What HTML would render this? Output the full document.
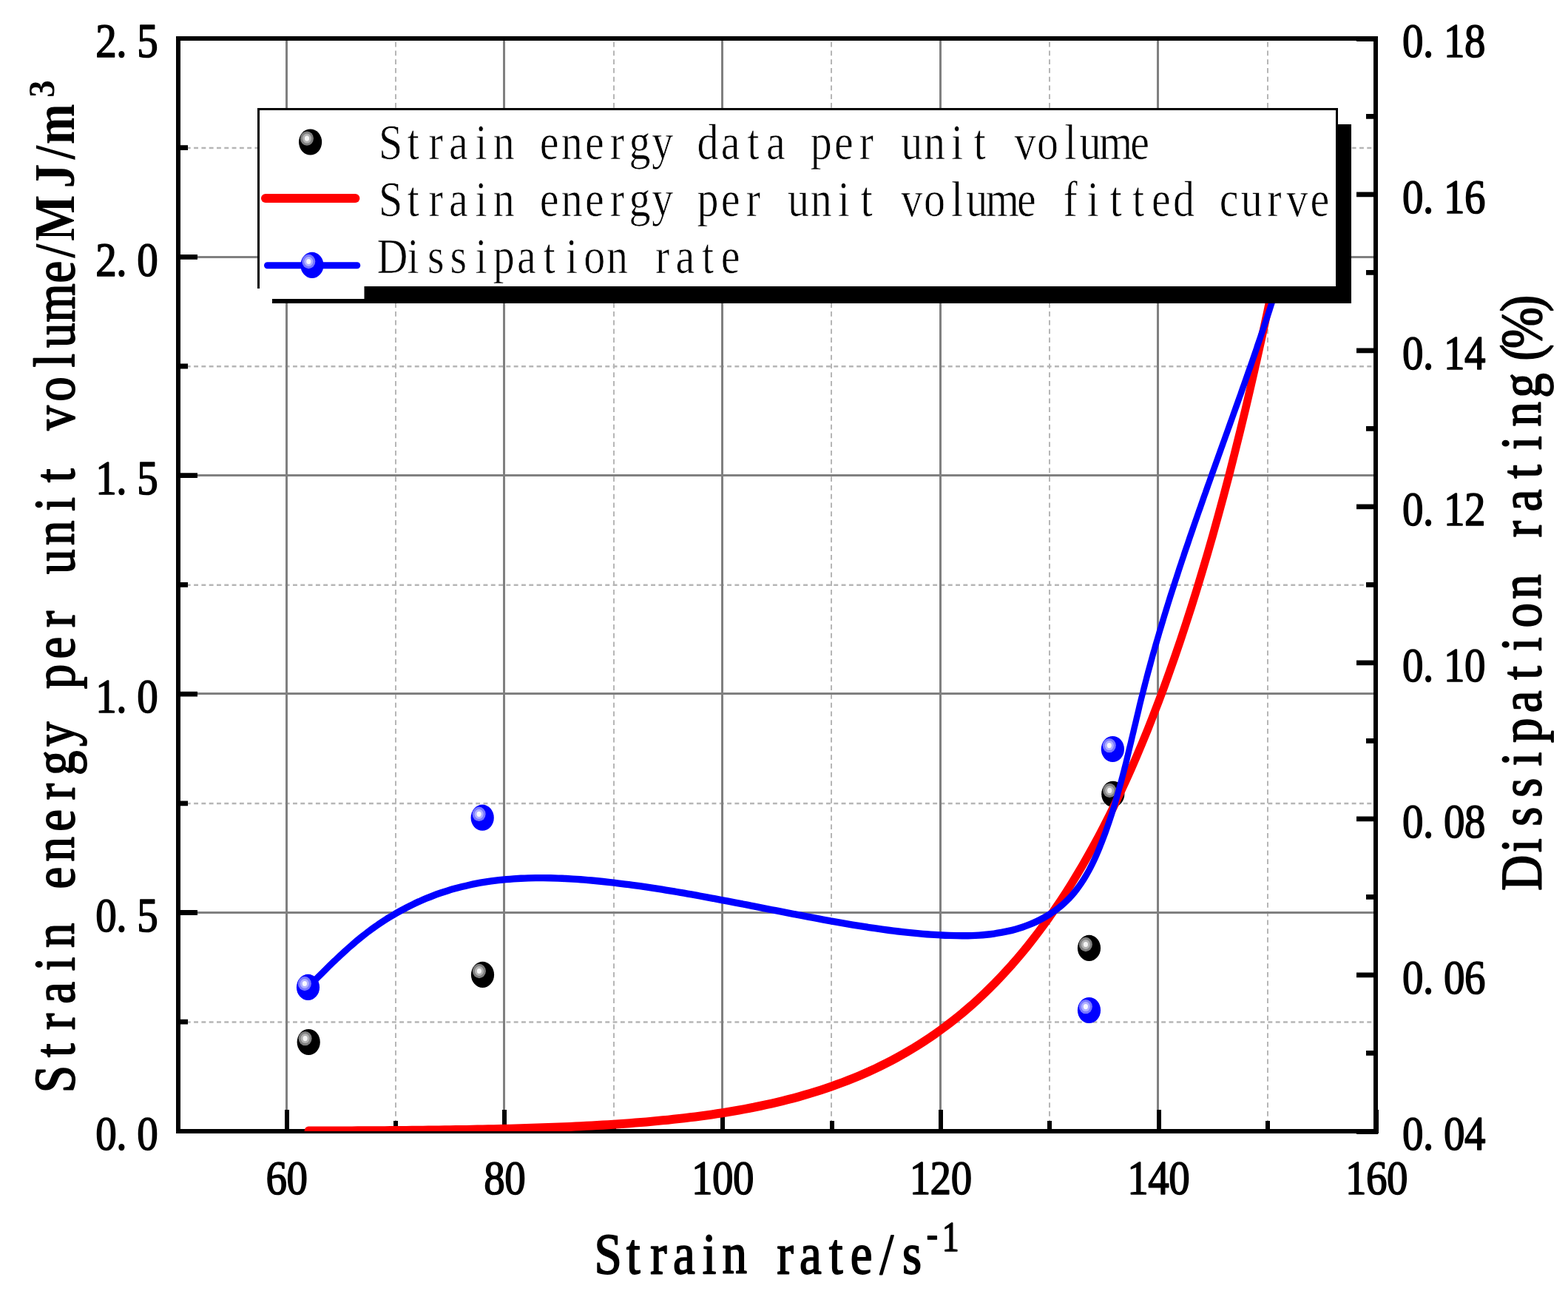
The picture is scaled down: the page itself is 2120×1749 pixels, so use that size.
<!DOCTYPE html>
<html lang="en"><head><meta charset="utf-8"><title>Strain energy per unit volume and dissipation rate versus strain rate</title>
<style>html,body{margin:0;padding:0;background:#fff}body{width:2120px;height:1749px;overflow:hidden}svg{display:block}text{font-family:"Liberation Serif",serif;fill:#000}.b{font-weight:bold}.k{stroke:#000;stroke-linejoin:round}.w{stroke:#fff}</style></head><body>
<svg width="2120" height="1749" viewBox="0 0 2120 1749">
<rect width="2120" height="1749" fill="#fff"/>
<defs><clipPath id="plot"><rect x="241" y="52" width="1619" height="1477"/></clipPath></defs>
<g id="grid" fill="none">
<g stroke="#b6b6b6" stroke-width="2">
<path d="M535 52 V1529" stroke-dasharray="6.6 5.15" stroke-dashoffset="6.9"/>
<path d="M830 52 V1529" stroke-dasharray="6.6 5.15" stroke-dashoffset="6.9"/>
<path d="M1124 52 V1529" stroke-dasharray="6.6 5.15" stroke-dashoffset="6.9"/>
<path d="M1419 52 V1529" stroke-dasharray="6.6 5.15" stroke-dashoffset="6.9"/>
<path d="M1714 52 V1529" stroke-dasharray="6.6 5.15" stroke-dashoffset="6.9"/>
<path d="M241 1381.5 H1860" stroke-width="2.5" stroke-dasharray="5.9 4.4" stroke-dashoffset="9.8"/>
<path d="M241 1086.1 H1860" stroke-width="2.5" stroke-dasharray="5.9 4.4" stroke-dashoffset="9.8"/>
<path d="M241 790.7 H1860" stroke-width="2.5" stroke-dasharray="5.9 4.4" stroke-dashoffset="9.8"/>
<path d="M241 495.3 H1860" stroke-width="2.5" stroke-dasharray="5.9 4.4" stroke-dashoffset="9.8"/>
<path d="M241 199.9 H1860" stroke-width="2.5" stroke-dasharray="5.9 4.4" stroke-dashoffset="9.8"/>
</g>
<g stroke="#808080" stroke-width="3">
<path d="M387.5 52 V1529"/>
<path d="M681.5 52 V1529"/>
<path d="M976.5 52 V1529"/>
<path d="M1271.5 52 V1529"/>
<path d="M1565.5 52 V1529"/>
<path d="M241 1233.5 H1860"/>
<path d="M241 937.5 H1860"/>
<path d="M241 642.5 H1860"/>
<path d="M241 347.5 H1860"/>
</g></g>
<g id="axes" stroke="#000" fill="none">
<rect x="241" y="52" width="1619" height="1477" stroke-width="6"/>
<path d="M238 1381.2H254M238 1233.5H267M238 1085.8H254M238 938.1H267M238 790.4H254M238 642.7H267M238 495.0H254M238 347.3H267M238 199.6H254" stroke-width="6.8"/>
<path d="M1863 1529.6H1834M1863 1423.4H1847M1863 1317.9H1834M1863 1212.4H1847M1863 1106.9H1834M1863 1001.4H1847M1863 895.9H1834M1863 790.4H1847M1863 684.9H1834M1863 579.4H1847M1863 473.9H1834M1863 368.4H1847M1863 262.9H1834M1863 157.4H1847M1863 52.6H1834" stroke-width="6.8"/>
<path d="M388 1532V1500M535 1532V1515M682 1532V1500M830 1532V1515M977 1532V1500M1125 1532V1515M1272 1532V1500M1419 1532V1515M1567 1532V1500M1714 1532V1515M1861 1532V1500" stroke-width="6"/>
</g>
<g id="data" clip-path="url(#plot)">
<g id="strain-energy-data"><ellipse cx="417.2" cy="1408.5" rx="15.6" ry="17.6" fill="#000"/><ellipse cx="412.6" cy="1403.6" rx="9" ry="9.7" fill="#7f7f7f"/><ellipse cx="412.6" cy="1403.6" rx="6" ry="6.5" fill="#b2b2b2"/><ellipse cx="412.6" cy="1403.6" rx="3.1" ry="3.6" fill="#f4f4f4"/><ellipse cx="652.5" cy="1317.4" rx="15.6" ry="17.6" fill="#000"/><ellipse cx="647.9" cy="1312.5" rx="9" ry="9.7" fill="#7f7f7f"/><ellipse cx="647.9" cy="1312.5" rx="6" ry="6.5" fill="#b2b2b2"/><ellipse cx="647.9" cy="1312.5" rx="3.1" ry="3.6" fill="#f4f4f4"/><ellipse cx="1472.5" cy="1281.4" rx="15.6" ry="17.6" fill="#000"/><ellipse cx="1467.9" cy="1276.5" rx="9" ry="9.7" fill="#7f7f7f"/><ellipse cx="1467.9" cy="1276.5" rx="6" ry="6.5" fill="#b2b2b2"/><ellipse cx="1467.9" cy="1276.5" rx="3.1" ry="3.6" fill="#f4f4f4"/><ellipse cx="1504.8" cy="1073.3" rx="15.6" ry="17.6" fill="#000"/><ellipse cx="1500.2" cy="1068.4" rx="9" ry="9.7" fill="#7f7f7f"/><ellipse cx="1500.2" cy="1068.4" rx="6" ry="6.5" fill="#b2b2b2"/><ellipse cx="1500.2" cy="1068.4" rx="3.1" ry="3.6" fill="#f4f4f4"/></g>
<path id="fit-curve" d="M417.0 1358.77 L424.3 1358.75 L431.7 1358.73 L439.1 1358.71 L446.4 1358.69 L453.8 1358.66 L461.2 1358.64 L468.5 1358.61 L475.9 1358.58 L483.3 1358.54 L490.6 1358.51 L498.0 1358.47 L505.4 1358.43 L512.7 1358.39 L520.1 1358.35 L527.5 1358.30 L534.9 1358.25 L542.2 1358.19 L549.6 1358.14 L557.0 1358.08 L564.3 1358.01 L571.7 1357.95 L579.1 1357.87 L586.4 1357.80 L593.8 1357.72 L601.2 1357.63 L608.5 1357.54 L615.9 1357.45 L623.3 1357.35 L630.6 1357.24 L638.0 1357.13 L645.4 1357.01 L652.7 1356.89 L660.1 1356.75 L667.5 1356.62 L674.8 1356.47 L682.2 1356.31 L689.6 1356.15 L696.9 1355.98 L704.3 1355.80 L711.7 1355.61 L719.0 1355.41 L726.4 1355.20 L733.8 1354.98 L741.1 1354.74 L748.5 1354.50 L755.9 1354.24 L763.2 1353.97 L770.6 1353.69 L778.0 1353.39 L785.3 1353.07 L792.7 1352.75 L800.1 1352.40 L807.4 1352.04 L814.8 1351.66 L822.2 1351.26 L829.5 1350.85 L836.9 1350.41 L844.3 1349.95 L851.7 1349.48 L859.0 1348.98 L866.4 1348.45 L873.8 1347.90 L881.1 1347.33 L888.5 1346.73 L895.9 1346.10 L903.2 1345.45 L910.6 1344.76 L918.0 1344.05 L925.3 1343.30 L932.7 1342.52 L940.1 1341.70 L947.4 1340.85 L954.8 1339.96 L962.2 1339.03 L969.5 1338.07 L976.9 1337.06 L984.3 1336.01 L991.6 1334.91 L999.0 1333.77 L1006.4 1332.58 L1013.7 1331.33 L1021.1 1330.04 L1028.5 1328.69 L1035.8 1327.29 L1043.2 1325.83 L1050.6 1324.31 L1057.9 1322.73 L1065.3 1321.09 L1072.7 1319.37 L1080.0 1317.59 L1087.4 1315.74 L1094.8 1313.81 L1102.1 1311.81 L1109.5 1309.73 L1116.9 1307.57 L1124.2 1305.32 L1131.6 1302.99 L1139.0 1300.57 L1146.4 1298.05 L1153.7 1295.44 L1161.1 1292.72 L1168.5 1289.91 L1175.8 1286.99 L1183.2 1283.95 L1190.6 1280.81 L1197.9 1277.54 L1205.3 1274.16 L1212.7 1270.65 L1220.0 1267.01 L1227.4 1263.24 L1234.8 1259.33 L1242.1 1255.28 L1249.5 1251.08 L1256.9 1246.74 L1264.2 1242.23 L1271.6 1237.57 L1279.0 1232.74 L1286.3 1227.74 L1293.7 1222.56 L1301.1 1217.20 L1308.4 1211.65 L1315.8 1205.91 L1323.2 1199.97 L1330.5 1193.83 L1337.9 1187.47 L1345.3 1180.90 L1352.6 1174.11 L1360.0 1167.08 L1367.4 1159.82 L1374.7 1152.31 L1382.1 1144.55 L1389.5 1136.52 L1396.8 1128.24 L1404.2 1119.68 L1411.6 1110.83 L1419.0 1101.70 L1426.3 1092.26 L1433.7 1082.52 L1441.1 1072.46 L1448.4 1062.08 L1455.8 1051.36 L1463.2 1040.29 L1470.5 1028.87 L1477.9 1017.09 L1485.3 1004.93 L1492.6 992.39 L1500.0 979.46 L1507.4 966.11 L1514.7 952.35 L1522.1 938.17 L1529.5 923.54 L1536.8 908.45 L1544.2 892.91 L1551.6 876.88 L1558.9 860.37 L1566.3 843.35 L1573.7 825.81 L1581.0 807.74 L1588.4 789.13 L1595.8 769.96 L1603.1 750.22 L1610.5 729.88 L1617.9 708.94 L1625.2 687.38 L1632.6 665.19 L1640.0 642.34 L1647.3 618.82 L1654.7 594.61 L1662.1 569.70 L1669.4 544.07 L1676.8 517.70 L1684.2 490.56 L1691.5 462.65 L1698.9 433.94 L1706.3 404.40 L1713.7 374.03 L1721.0 342.80 L1728.4 310.69 L1735.8 277.67 L1743.1 243.73" transform="scale(1 1.125)" fill="none" stroke="#ff0000" stroke-width="10.7" stroke-linecap="round" stroke-linejoin="round"/>
<path id="dissipation-curve" d="M416.5 1186.13 C417.7 1185.07 421.2 1181.87 423.6 1179.74 C425.9 1177.61 428.3 1175.48 430.7 1173.36 C433.0 1171.24 435.4 1169.12 437.8 1167.01 C440.2 1164.91 442.6 1162.81 445.0 1160.72 C447.4 1158.63 449.8 1156.55 452.2 1154.48 C454.7 1152.41 457.1 1150.36 459.6 1148.32 C462.0 1146.28 464.5 1144.27 467.0 1142.27 C469.5 1140.27 472.0 1138.28 474.6 1136.32 C477.1 1134.36 479.7 1132.41 482.2 1130.50 C484.8 1128.58 487.4 1126.69 490.1 1124.84 C492.7 1122.98 495.4 1121.14 498.0 1119.34 C500.7 1117.54 503.4 1115.77 506.2 1114.04 C508.9 1112.30 511.7 1110.60 514.5 1108.93 C517.3 1107.27 520.1 1105.64 522.9 1104.04 C525.8 1102.45 528.6 1100.88 531.5 1099.36 C534.4 1097.84 537.3 1096.35 540.3 1094.90 C543.2 1093.45 546.2 1092.03 549.2 1090.65 C552.2 1089.27 555.2 1087.93 558.2 1086.63 C561.2 1085.33 564.3 1084.07 567.3 1082.84 C570.4 1081.62 573.5 1080.44 576.6 1079.30 C579.7 1078.16 582.8 1077.05 586.0 1075.99 C589.1 1074.93 592.3 1073.92 595.5 1072.94 C598.7 1071.97 601.9 1071.04 605.1 1070.15 C608.3 1069.27 611.5 1068.43 614.8 1067.63 C618.0 1066.83 621.2 1066.07 624.5 1065.35 C627.8 1064.63 631.1 1063.95 634.3 1063.32 C637.6 1062.68 640.9 1062.09 644.2 1061.53 C647.5 1060.97 650.8 1060.45 654.2 1059.97 C657.5 1059.49 660.8 1059.05 664.1 1058.64 C667.5 1058.23 670.8 1057.86 674.1 1057.52 C677.5 1057.18 680.8 1056.88 684.2 1056.61 C687.5 1056.34 690.9 1056.10 694.2 1055.89 C697.6 1055.68 701.0 1055.51 704.3 1055.36 C707.7 1055.21 711.0 1055.10 714.4 1055.01 C717.8 1054.92 721.1 1054.85 724.5 1054.82 C727.9 1054.78 731.2 1054.78 734.6 1054.79 C737.9 1054.81 741.3 1054.84 744.7 1054.91 C748.0 1054.97 751.4 1055.06 754.8 1055.16 C758.1 1055.27 761.5 1055.40 764.8 1055.55 C768.2 1055.69 771.6 1055.87 774.9 1056.05 C778.3 1056.24 781.6 1056.44 785.0 1056.67 C788.3 1056.89 791.7 1057.13 795.0 1057.39 C798.4 1057.64 801.7 1057.92 805.1 1058.20 C808.4 1058.49 811.8 1058.79 815.1 1059.10 C818.5 1059.41 821.8 1059.74 825.1 1060.08 C828.5 1060.42 831.8 1060.77 835.2 1061.13 C838.5 1061.49 841.8 1061.86 845.2 1062.24 C848.5 1062.62 851.9 1063.01 855.2 1063.41 C858.5 1063.81 861.8 1064.23 865.2 1064.65 C868.5 1065.07 871.8 1065.49 875.2 1065.93 C878.5 1066.37 881.8 1066.82 885.1 1067.27 C888.5 1067.73 891.8 1068.19 895.1 1068.66 C898.4 1069.13 901.8 1069.60 905.1 1070.09 C908.4 1070.57 911.7 1071.07 915.0 1071.56 C918.3 1072.06 921.7 1072.57 925.0 1073.08 C928.3 1073.60 931.6 1074.11 934.9 1074.63 C938.2 1075.15 941.5 1075.68 944.8 1076.21 C948.2 1076.75 951.5 1077.29 954.8 1077.83 C958.1 1078.37 961.4 1078.92 964.7 1079.47 C968.0 1080.02 971.3 1080.57 974.6 1081.13 C977.9 1081.69 981.2 1082.25 984.5 1082.81 C987.8 1083.37 991.1 1083.94 994.4 1084.51 C997.7 1085.07 1001.0 1085.64 1004.3 1086.21 C1007.6 1086.78 1010.9 1087.36 1014.2 1087.93 C1017.5 1088.50 1020.8 1089.08 1024.1 1089.65 C1027.4 1090.23 1030.7 1090.81 1034.0 1091.39 C1037.3 1091.96 1040.6 1092.54 1043.9 1093.11 C1047.2 1093.69 1050.5 1094.26 1053.8 1094.84 C1057.1 1095.41 1060.4 1095.99 1063.7 1096.56 C1067.0 1097.13 1070.3 1097.70 1073.6 1098.27 C1076.9 1098.83 1080.2 1099.39 1083.5 1099.96 C1086.9 1100.52 1090.2 1101.08 1093.5 1101.64 C1096.8 1102.19 1100.1 1102.74 1103.4 1103.29 C1106.7 1103.84 1110.0 1104.38 1113.3 1104.92 C1116.6 1105.47 1119.9 1106.00 1123.2 1106.53 C1126.5 1107.06 1129.8 1107.59 1133.2 1108.11 C1136.5 1108.63 1139.8 1109.15 1143.1 1109.65 C1146.4 1110.16 1149.7 1110.66 1153.0 1111.15 C1156.4 1111.64 1159.7 1112.12 1163.0 1112.60 C1166.3 1113.07 1169.7 1113.54 1173.0 1113.99 C1176.3 1114.45 1179.6 1114.89 1183.0 1115.32 C1186.3 1115.76 1189.6 1116.18 1192.9 1116.59 C1196.3 1117.00 1199.6 1117.39 1202.9 1117.78 C1206.3 1118.16 1209.6 1118.53 1213.0 1118.89 C1216.3 1119.24 1219.6 1119.59 1223.0 1119.91 C1226.3 1120.24 1229.7 1120.55 1233.0 1120.84 C1236.4 1121.14 1239.7 1121.43 1243.1 1121.69 C1246.4 1121.95 1249.8 1122.19 1253.1 1122.42 C1256.5 1122.64 1259.8 1122.86 1263.2 1123.05 C1266.5 1123.24 1269.9 1123.41 1273.3 1123.56 C1276.6 1123.71 1280.0 1123.84 1283.3 1123.95 C1286.7 1124.05 1290.1 1124.13 1293.4 1124.18 C1296.8 1124.22 1300.1 1124.24 1303.5 1124.22 C1306.9 1124.20 1310.2 1124.15 1313.6 1124.04 C1317.0 1123.94 1320.3 1123.80 1323.7 1123.61 C1327.0 1123.42 1330.4 1123.18 1333.7 1122.89 C1337.1 1122.59 1340.4 1122.25 1343.8 1121.84 C1347.1 1121.43 1350.4 1120.96 1353.7 1120.43 C1357.0 1119.89 1360.3 1119.29 1363.6 1118.62 C1366.9 1117.95 1370.1 1117.21 1373.4 1116.39 C1376.6 1115.57 1379.8 1114.68 1383.0 1113.72 C1386.2 1112.75 1389.3 1111.70 1392.5 1110.58 C1395.6 1109.46 1398.7 1108.26 1401.7 1106.99 C1404.7 1105.71 1407.7 1104.35 1410.7 1102.92 C1413.6 1101.48 1416.5 1099.96 1419.4 1098.36 C1422.2 1096.75 1425.0 1095.06 1427.7 1093.29 C1430.4 1091.52 1433.1 1089.66 1435.6 1087.72 C1438.2 1085.77 1440.6 1083.74 1443.0 1081.64 C1445.4 1079.53 1447.7 1077.33 1449.9 1075.08 C1452.1 1072.82 1454.2 1070.48 1456.2 1068.11 C1458.3 1065.73 1460.2 1063.29 1462.1 1060.81 C1464.0 1058.33 1465.8 1055.79 1467.5 1053.23 C1469.2 1050.66 1470.9 1048.05 1472.5 1045.42 C1474.1 1042.79 1475.6 1040.13 1477.1 1037.45 C1478.6 1034.77 1480.0 1032.06 1481.4 1029.33 C1482.8 1026.61 1484.1 1023.86 1485.4 1021.10 C1486.7 1018.35 1487.9 1015.57 1489.2 1012.79 C1490.4 1010.01 1491.6 1007.21 1492.8 1004.41 C1494.0 1001.61 1495.1 998.80 1496.2 995.98 C1497.3 993.16 1498.4 990.33 1499.5 987.50 C1500.6 984.67 1501.6 981.83 1502.7 978.99 C1503.7 976.14 1504.7 973.28 1505.7 970.43 C1506.7 967.57 1507.7 964.71 1508.6 961.84 C1509.6 958.97 1510.5 956.10 1511.4 953.23 C1512.3 950.35 1513.2 947.47 1514.1 944.59 C1515.0 941.70 1515.9 938.81 1516.7 935.92 C1517.6 933.03 1518.4 930.14 1519.3 927.24 C1520.1 924.35 1520.9 921.45 1521.8 918.55 C1522.6 915.65 1523.4 912.74 1524.2 909.84 C1525.0 906.94 1525.8 904.04 1526.5 901.13 C1527.3 898.22 1528.1 895.31 1528.9 892.40 C1529.7 889.49 1530.4 886.58 1531.2 883.67 C1532.0 880.76 1532.8 877.85 1533.5 874.94 C1534.3 872.03 1535.1 869.12 1535.9 866.21 C1536.6 863.31 1537.4 860.40 1538.2 857.49 C1539.0 854.59 1539.8 851.67 1540.5 848.76 C1541.3 845.86 1542.1 842.96 1542.9 840.05 C1543.7 837.15 1544.5 834.25 1545.4 831.35 C1546.2 828.45 1547.0 825.55 1547.9 822.66 C1548.7 819.76 1549.6 816.87 1550.4 813.98 C1551.3 811.09 1552.1 808.20 1553.0 805.32 C1553.9 802.43 1554.8 799.54 1555.7 796.66 C1556.5 793.77 1557.4 790.90 1558.3 788.02 C1559.2 785.14 1560.2 782.26 1561.1 779.39 C1562.0 776.51 1562.9 773.64 1563.9 770.76 C1564.8 767.89 1565.7 765.02 1566.7 762.15 C1567.6 759.28 1568.6 756.42 1569.6 753.56 C1570.5 750.69 1571.5 747.83 1572.5 744.97 C1573.4 742.11 1574.4 739.25 1575.4 736.39 C1576.4 733.53 1577.4 730.68 1578.4 727.82 C1579.4 724.97 1580.4 722.11 1581.4 719.26 C1582.4 716.41 1583.4 713.56 1584.5 710.71 C1585.5 707.86 1586.5 705.01 1587.6 702.17 C1588.6 699.32 1589.6 696.49 1590.7 693.64 C1591.7 690.80 1592.8 687.96 1593.8 685.12 C1594.9 682.28 1595.9 679.44 1597.0 676.60 C1598.0 673.77 1599.1 670.93 1600.2 668.10 C1601.2 665.26 1602.3 662.43 1603.4 659.60 C1604.5 656.77 1605.6 653.93 1606.7 651.10 C1607.7 648.27 1608.8 645.45 1609.9 642.62 C1611.0 639.80 1612.1 636.97 1613.2 634.14 C1614.3 631.32 1615.4 628.49 1616.5 625.66 C1617.6 622.84 1618.7 620.01 1619.8 617.19 C1620.9 614.37 1622.0 611.55 1623.2 608.73 C1624.3 605.91 1625.4 603.09 1626.5 600.27 C1627.6 597.45 1628.7 594.63 1629.9 591.81 C1631.0 589.00 1632.1 586.18 1633.2 583.36 C1634.4 580.54 1635.5 577.72 1636.6 574.91 C1637.7 572.09 1638.9 569.28 1640.0 566.46 C1641.1 563.65 1642.3 560.83 1643.4 558.02 C1644.5 555.20 1645.7 552.39 1646.8 549.57 C1647.9 546.76 1649.1 543.94 1650.2 541.13 C1651.3 538.31 1652.5 535.50 1653.6 532.68 C1654.8 529.87 1655.9 527.05 1657.0 524.24 C1658.2 521.43 1659.3 518.61 1660.4 515.80 C1661.6 512.98 1662.7 510.17 1663.8 507.35 C1665.0 504.54 1666.1 501.72 1667.2 498.91 C1668.3 496.09 1669.5 493.28 1670.6 490.46 C1671.7 487.65 1672.9 484.83 1674.0 482.01 C1675.1 479.19 1676.2 476.37 1677.4 473.56 C1678.5 470.74 1679.6 467.92 1680.7 465.10 C1681.9 462.28 1683.0 459.47 1684.1 456.65 C1685.2 453.83 1686.3 451.00 1687.4 448.18 C1688.5 445.36 1689.7 442.54 1690.8 439.72 C1691.9 436.89 1693.0 434.07 1694.1 431.24 C1695.2 428.42 1696.3 425.59 1697.4 422.76 C1698.5 419.94 1699.5 417.11 1700.6 414.28 C1701.7 411.45 1702.8 408.62 1703.9 405.79 C1705.0 402.96 1706.0 400.12 1707.1 397.29 C1708.2 394.45 1709.3 391.62 1710.3 388.78 C1711.4 385.95 1712.4 383.11 1713.5 380.28 C1714.6 377.44 1715.6 374.59 1716.7 371.75 C1717.7 368.91 1718.7 366.07 1719.8 363.23 C1720.8 360.38 1721.9 357.54 1722.9 354.69 C1723.9 351.85 1724.9 348.99 1725.9 346.14 C1727.0 343.29 1728.5 339.02 1729.0 337.59" transform="scale(1 1.125)" fill="none" stroke="#0000ff" stroke-width="8.3" stroke-linecap="round" stroke-linejoin="round"/>
<g id="dissipation-data"><ellipse cx="416.5" cy="1334.4" rx="15.6" ry="17.6" fill="#0000ff"/><ellipse cx="411.9" cy="1329.5" rx="9" ry="9.7" fill="#7878ff"/><ellipse cx="411.9" cy="1329.5" rx="6" ry="6.5" fill="#b0b0ff"/><ellipse cx="411.9" cy="1329.5" rx="3.1" ry="3.6" fill="#f8f8ff"/><ellipse cx="652.2" cy="1105.2" rx="15.6" ry="17.6" fill="#0000ff"/><ellipse cx="647.6" cy="1100.3" rx="9" ry="9.7" fill="#7878ff"/><ellipse cx="647.6" cy="1100.3" rx="6" ry="6.5" fill="#b0b0ff"/><ellipse cx="647.6" cy="1100.3" rx="3.1" ry="3.6" fill="#f8f8ff"/><ellipse cx="1472.5" cy="1365.5" rx="15.6" ry="17.6" fill="#0000ff"/><ellipse cx="1467.9" cy="1360.6" rx="9" ry="9.7" fill="#7878ff"/><ellipse cx="1467.9" cy="1360.6" rx="6" ry="6.5" fill="#b0b0ff"/><ellipse cx="1467.9" cy="1360.6" rx="3.1" ry="3.6" fill="#f8f8ff"/><ellipse cx="1504.4" cy="1012.5" rx="15.6" ry="17.6" fill="#0000ff"/><ellipse cx="1499.8" cy="1007.6" rx="9" ry="9.7" fill="#7878ff"/><ellipse cx="1499.8" cy="1007.6" rx="6" ry="6.5" fill="#b0b0ff"/><ellipse cx="1499.8" cy="1007.6" rx="3.1" ry="3.6" fill="#f8f8ff"/></g>
</g>
<g id="legend">
<rect x="368" y="168" width="1459" height="242" fill="#000"/>
<rect x="349.5" y="147.5" width="1458" height="241" fill="#fff" stroke="#000" stroke-width="3"/>
<rect x="351" y="380" width="141.5" height="24" fill="#fff"/>
<ellipse cx="419.6" cy="192.0" rx="15.6" ry="17.6" fill="#000"/><ellipse cx="415.0" cy="187.1" rx="9" ry="9.7" fill="#7f7f7f"/><ellipse cx="415.0" cy="187.1" rx="6" ry="6.5" fill="#b2b2b2"/><ellipse cx="415.0" cy="187.1" rx="3.1" ry="3.6" fill="#f4f4f4"/>
<path d="M359 268H480.4" stroke="#ff0000" stroke-width="12" stroke-linecap="round" fill="none"/>
<path d="M361.5 358.7H482.8" stroke="#0000ff" stroke-width="9" stroke-linecap="round" fill="none"/>
<ellipse cx="421.9" cy="358.4" rx="15.6" ry="17.6" fill="#0000ff"/><ellipse cx="417.3" cy="353.5" rx="9" ry="9.7" fill="#7878ff"/><ellipse cx="417.3" cy="353.5" rx="6" ry="6.5" fill="#b0b0ff"/><ellipse cx="417.3" cy="353.5" rx="3.1" ry="3.6" fill="#f8f8ff"/>
<text class="w" font-size="67" x="-0.9 43.8 77.3 109.0 150.0 177.9 221.7 250.6 284.1 321.4 360.5 390.3 425.7 469.5 496.5 533.7 574.7 604.5 646.4 673.4 710.7 749.8 788.0 815.0 850.4 893.3 928.6 965.0 992.0 1027.4 1070.2 1093.6 1124.3 1173.2" y="0" transform="matrix(0.8657 0 0 1 512.70 214.90)" stroke-width="0.7">Strain energy data per unit volume</text>
<text class="w" font-size="67" x="-0.9 43.8 77.3 109.0 150.0 177.9 221.7 250.6 284.1 321.4 360.5 390.3 425.7 469.5 496.5 533.7 572.9 611.0 638.0 673.4 716.3 751.7 788.0 815.0 850.4 893.3 916.6 947.3 996.2 1035.8 1068.4 1105.6 1141.0 1176.4 1206.2 1239.8 1283.5 1312.4 1345.9 1386.9 1416.7 1454.0" y="0" transform="matrix(0.8657 0 0 1 512.70 292.30)" stroke-width="0.7">Strain energy per unit volume fitted curve</text>
<text class="w" font-size="67" x="-3.6 43.8 75.4 110.8 150.0 177.9 215.2 256.2 291.5 319.5 354.9 398.7 431.3 463.0 503.9 533.7" y="0" transform="matrix(0.8657 0 0 1 512.70 369.30)" stroke-width="0.7">Dissipation rate</text>
</g>
<g id="ticklabels">
<text class="k" font-size="65" x="-0.3 31.6" y="0" transform="matrix(0.8769 0 0 1 359.80 1613.90)" stroke-width="1.6">60</text>
<text class="k" font-size="65" x="-0.3 31.6" y="0" transform="matrix(0.8769 0 0 1 654.50 1613.90)" stroke-width="1.6">80</text>
<text class="k" font-size="65" x="-0.3 31.6 63.6" y="0" transform="matrix(0.8769 0 0 1 935.20 1613.90)" stroke-width="1.6">100</text>
<text class="k" font-size="65" x="-0.3 31.6 63.6" y="0" transform="matrix(0.8769 0 0 1 1229.90 1613.90)" stroke-width="1.6">120</text>
<text class="k" font-size="65" x="-0.3 31.6 63.6" y="0" transform="matrix(0.8769 0 0 1 1524.60 1613.90)" stroke-width="1.6">140</text>
<text class="k" font-size="65" x="-0.3 31.6 63.6" y="0" transform="matrix(0.8769 0 0 1 1819.30 1613.90)" stroke-width="1.6">160</text>
<text class="k" font-size="65" x="-0.3 31.6 63.6" y="0" transform="matrix(0.8769 0 0 1 129.50 1554.20)" stroke-width="1.6">0.0</text>
<text class="k" font-size="65" x="-0.3 31.6 63.6" y="0" transform="matrix(0.8769 0 0 1 129.50 1258.80)" stroke-width="1.6">0.5</text>
<text class="k" font-size="65" x="-0.3 31.6 63.6" y="0" transform="matrix(0.8769 0 0 1 129.50 963.40)" stroke-width="1.6">1.0</text>
<text class="k" font-size="65" x="-0.3 31.6 63.6" y="0" transform="matrix(0.8769 0 0 1 129.50 668.00)" stroke-width="1.6">1.5</text>
<text class="k" font-size="65" x="-0.3 31.6 63.6" y="0" transform="matrix(0.8769 0 0 1 129.50 372.60)" stroke-width="1.6">2.0</text>
<text class="k" font-size="65" x="-0.3 31.6 63.6" y="0" transform="matrix(0.8769 0 0 1 129.50 77.20)" stroke-width="1.6">2.5</text>
<text class="k" font-size="65" x="-0.3 31.6 63.6 95.5" y="0" transform="matrix(0.8769 0 0 1 1896.30 1554.20)" stroke-width="1.6">0.04</text>
<text class="k" font-size="65" x="-0.3 31.6 63.6 95.5" y="0" transform="matrix(0.8769 0 0 1 1896.30 1343.20)" stroke-width="1.6">0.06</text>
<text class="k" font-size="65" x="-0.3 31.6 63.6 95.5" y="0" transform="matrix(0.8769 0 0 1 1896.30 1132.20)" stroke-width="1.6">0.08</text>
<text class="k" font-size="65" x="-0.3 31.6 63.6 95.5" y="0" transform="matrix(0.8769 0 0 1 1896.30 921.20)" stroke-width="1.6">0.10</text>
<text class="k" font-size="65" x="-0.3 31.6 63.6 95.5" y="0" transform="matrix(0.8769 0 0 1 1896.30 710.20)" stroke-width="1.6">0.12</text>
<text class="k" font-size="65" x="-0.3 31.6 63.6 95.5" y="0" transform="matrix(0.8769 0 0 1 1896.30 499.20)" stroke-width="1.6">0.14</text>
<text class="k" font-size="65" x="-0.3 31.6 63.6 95.5" y="0" transform="matrix(0.8769 0 0 1 1896.30 288.20)" stroke-width="1.6">0.16</text>
<text class="k" font-size="65" x="-0.3 31.6 63.6 95.5" y="0" transform="matrix(0.8769 0 0 1 1896.30 77.20)" stroke-width="1.6">0.18</text>
</g>
<g id="titles">
<text class="k" font-size="79" x="-1.8 49.6 87.8 123.8 170.8 202.4 252.6 289.7 325.7 372.7 406.5 453.4 489.4" y="0" transform="matrix(0.8481 0 0 1 804.90 1721.40)" stroke-width="1.9">Strain rate/s</text>
<text class="k" font-size="56" x="3.5 28.9" y="-5 0" transform="matrix(0.8214 0 0 1 1250.00 1690.60)" stroke-width="1.6">-1</text>
<text class="k" font-size="79" x="0.9 57.7 101.4 142.8 195.2 232.2 287.9 326.0 369.6 417.6 467.8 507.0 552.9 608.5 644.5 692.5 742.7 791.8 827.7 873.5 928.1 973.9 1020.8 1056.7 1102.6 1157.1 1188.3 1229.0 1291.5" y="0" transform="matrix(0 -0.8481 1 0 99.60 1477.90)" stroke-width="1.9">Strain energy per unit volume</text>
<text class="b" font-size="78" x="0.8 27.4 111.6 158.1 181.6" y="0" transform="matrix(0 -0.8462 1 0 99.80 348.90)">/MJ/m</text>
<text class="b" font-size="50.7" transform="matrix(0 -0.9191 1 0 72.60 131.86)">3</text>
<text class="k" font-size="79" x="-3.9 57.7 99.1 145.0 195.2 232.2 280.2 332.6 378.4 415.4 461.2 516.9 559.4 600.9 653.2 699.1 736.1 781.9 840.9 860.4 919.3" y="0" transform="matrix(0 -0.8481 1 0 2082.60 1200.80)" stroke-width="1.9">Dissipation rating(%)</text>
</g>
</svg></body></html>
